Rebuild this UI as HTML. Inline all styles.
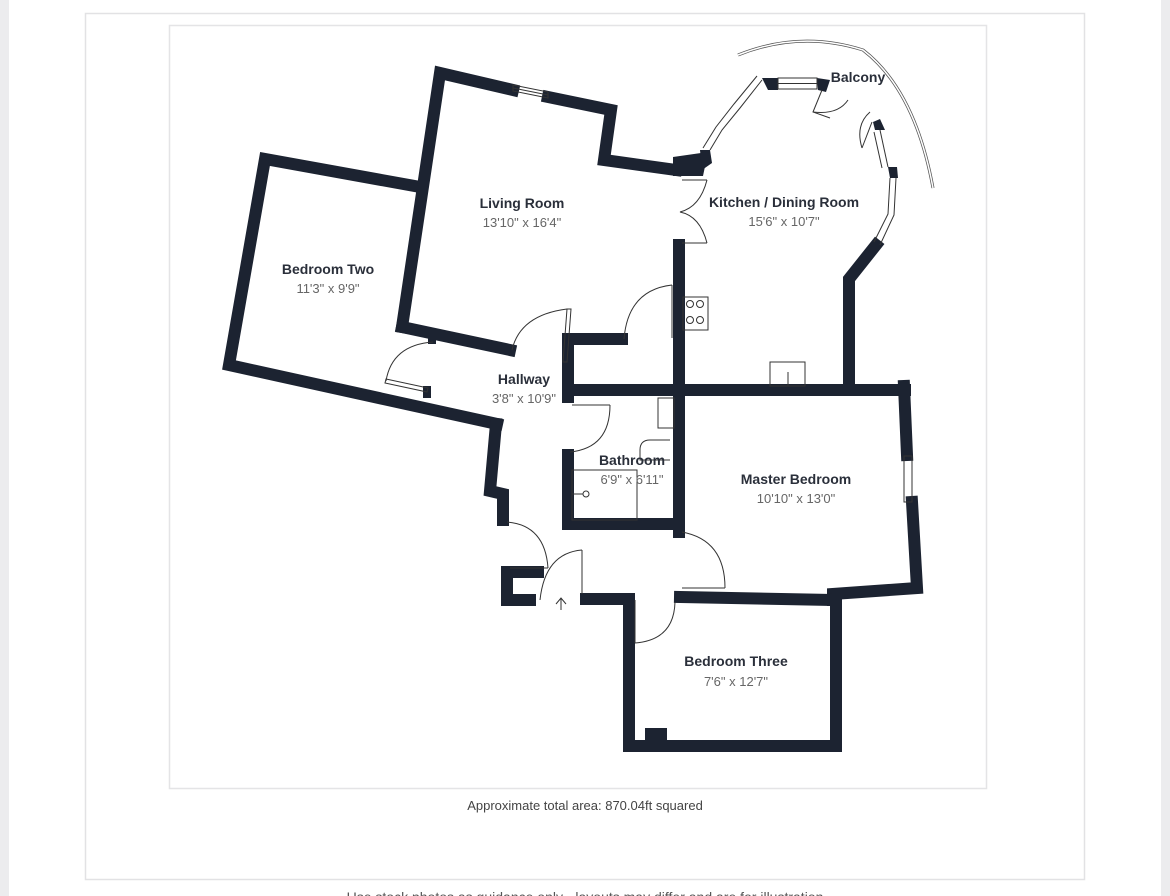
<!DOCTYPE html>
<html><head><meta charset="utf-8"><style>
html,body{margin:0;padding:0;width:1170px;height:896px;overflow:hidden;background:#ececee;}
svg{display:block}
</style></head><body>
<svg width="1170" height="896" viewBox="0 0 1170 896" xmlns="http://www.w3.org/2000/svg" font-family="Liberation Sans, sans-serif">
<rect x="0" y="0" width="1170" height="896" fill="#ececee"/>
<rect x="9" y="0" width="1152" height="896" fill="#ffffff"/>
<rect x="85.5" y="13.5" width="999" height="866" fill="#fff" stroke="#e2e2e4" stroke-width="1.5"/>
<rect x="169.5" y="25.5" width="817" height="763" fill="#fff" stroke="#e4e4e6" stroke-width="1.5"/>

<!-- balcony railing -->
<path d="M738,55 Q800,30 863,50 Q915,90 933,188" fill="none" stroke="#555" stroke-width="3"/>
<path d="M738,55 Q800,30 863,50 Q915,90 933,188" fill="none" stroke="#fff" stroke-width="1.5"/>

<g fill="none" stroke="#1c2331" stroke-width="12" stroke-linejoin="miter" stroke-linecap="square">
<!-- bedroom two -->
<polyline points="420,187 265,159 229,365 497,424"/>
<!-- living room -->
<polyline points="402,327 440,73 513,90"/>
<polyline points="548,97 611,110 604,160 676,170"/>
<line x1="402" y1="327" x2="510" y2="350"/>
<!-- hallway left -->
<polyline points="496,424 490,491 503,494 503,520"/>
<polyline points="538,572 507,572 507,600 530,600"/>
<!-- closet / hallway -->
<polyline points="568,343 568,397"/>
<line x1="568" y1="339" x2="622" y2="339"/>
<line x1="568" y1="390" x2="905" y2="390"/>
<!-- partition kitchen -->
<line x1="679" y1="245" x2="679" y2="532"/>
<!-- kitchen right -->
<polyline points="876,245 849,279 849,388"/>
<!-- bathroom -->
<polyline points="568,455 568,524 676,524"/>
<!-- master bedroom -->
<polyline points="904,386 907,455"/>
<polyline points="912,502 917,588 833,594 833,600"/>
<line x1="680" y1="597" x2="833" y2="600"/>
<!-- bedroom three -->
<polyline points="586,599 629,599 629,746 836,746 836,600"/>
</g>
<!-- bedroom two door stubs -->
<rect x="423" y="386" width="8" height="12" fill="#1c2331"/>
<rect x="428" y="334" width="8" height="10" fill="#1c2331"/>
<!-- block top of bay -->
<polygon points="673,157 708,152 703,176 673,176" fill="#1c2331"/>
<polygon points="700,150 710,150 712,163 702,170" fill="#1c2331"/>
<polygon points="762,78 778,78 778,90 768,90" fill="#1c2331"/>
<polygon points="817,78 830,80 826,92 818,90" fill="#1c2331"/>
<polygon points="873,122 880,119 885,130 875,130" fill="#1c2331"/>
<polygon points="888,167 897,167 898,178 890,178" fill="#1c2331"/>
<rect x="645" y="728" width="22" height="16" fill="#1c2331"/>
<rect x="562" y="358" width="8" height="10" fill="#1c2331"/>

<g fill="none" stroke="#333" stroke-width="1">
<!-- windows -->
<polygon points="513,85 548,92 548,98 513,91"/>
<line x1="513" y1="88" x2="548" y2="95"/>
<rect x="778" y="78" width="39" height="11"/><line x1="778" y1="83.5" x2="817" y2="83.5"/>
<polyline points="710,150 722,130 740,108 762,80"/>
<polyline points="703,148 716,127 734,104 757,76"/>
<polyline points="880,130 888,167"/><polyline points="874,132 882,168"/>
<polyline points="896,178 894,215 880,245"/><polyline points="890,178 888,214 874,242"/>
<rect x="904" y="456" width="8" height="46"/>
<!-- balcony door -->
<polyline points="822,90 813,112 830,118"/>
<path d="M813,112 Q838,115 848,100"/>
<path d="M862,148 Q855,125 870,112"/>
<polyline points="862,148 872,122"/>
<!-- double door kitchen -->
<line x1="682" y1="180" x2="707" y2="180"/><line x1="682" y1="243" x2="707" y2="243"/>
<path d="M707,180 Q700,207 680,212 Q700,216 707,243"/>
<!-- hob -->
<rect x="683" y="297" width="25" height="33"/>
<circle cx="690" cy="304" r="3.5"/><circle cx="700" cy="304" r="3.5"/>
<circle cx="690" cy="320" r="3.5"/><circle cx="700" cy="320" r="3.5"/>
<!-- closet door -->
<line x1="672" y1="285" x2="672" y2="338"/>
<path d="M672,285 Q628,290 624,339"/>
<!-- living->hall door -->
<polygon points="563,362 567,309 571,309 567,362"/>
<path d="M567,309 Q520,315 512,350"/>
<!-- bedroom two door -->
<polygon points="386,379 428,388 427,392 385,383"/>
<path d="M433,342 Q392,345 386,381"/>
<!-- bathroom door -->
<line x1="572" y1="405" x2="610" y2="405"/>
<path d="M610,405 Q610,448 570,452"/>
<!-- bathroom fixtures -->
<rect x="658" y="398" width="16" height="30"/>
<path d="M670,440 L650,440 Q640,440 640,450 L640,460 L670,460"/>
<rect x="572" y="470" width="65" height="50"/>
<circle cx="586" cy="494" r="3"/><line x1="572" y1="494" x2="583" y2="494"/>
<!-- sink kitchen -->
<rect x="770" y="362" width="35" height="24"/><line x1="788" y1="372" x2="788" y2="386"/>
<!-- entrance doors -->
<path d="M507,522 Q545,525 548,568"/>
<line x1="510" y1="568" x2="548" y2="568"/>
<line x1="582" y1="550" x2="582" y2="594"/>
<path d="M582,550 Q545,553 540,600"/>
<!-- master door -->
<path d="M682,532 Q725,540 725,588"/>
<line x1="682" y1="588" x2="725" y2="588"/>
<!-- bedroom three door -->
<path d="M675,602 Q674,640 635,643"/>
<line x1="635" y1="600" x2="635" y2="643"/>
<!-- entrance arrow -->
<path d="M561,610 L561,598 M556,604 L561,598 L566,604"/>
</g>

<g font-size="14" font-weight="bold" fill="#2a2f3a" text-anchor="middle">
<text x="522" y="208">Living Room</text>
<text x="784" y="207">Kitchen / Dining Room</text>
<text x="858" y="82">Balcony</text>
<text x="328" y="274">Bedroom Two</text>
<text x="524" y="384">Hallway</text>
<text x="632" y="465">Bathroom</text>
<text x="796" y="484">Master Bedroom</text>
<text x="736" y="666">Bedroom Three</text>
</g>
<g font-size="13" fill="#666" text-anchor="middle">
<text x="522" y="227">13'10" x 16'4"</text>
<text x="784" y="226">15'6" x 10'7"</text>
<text x="328" y="293">11'3" x 9'9"</text>
<text x="524" y="403">3'8" x 10'9"</text>
<text x="632" y="484">6'9" x 6'11"</text>
<text x="796" y="503">10'10" x 13'0"</text>
<text x="736" y="686">7'6" x 12'7"</text>
</g>
<text x="585" y="810" font-size="13" fill="#444" text-anchor="middle">Approximate total area: 870.04ft squared</text>
<text x="585" y="902" font-size="14" fill="#555" text-anchor="middle">Use stock photos as guidance only - layouts may differ and are for illustration</text>
</svg>
</body></html>
